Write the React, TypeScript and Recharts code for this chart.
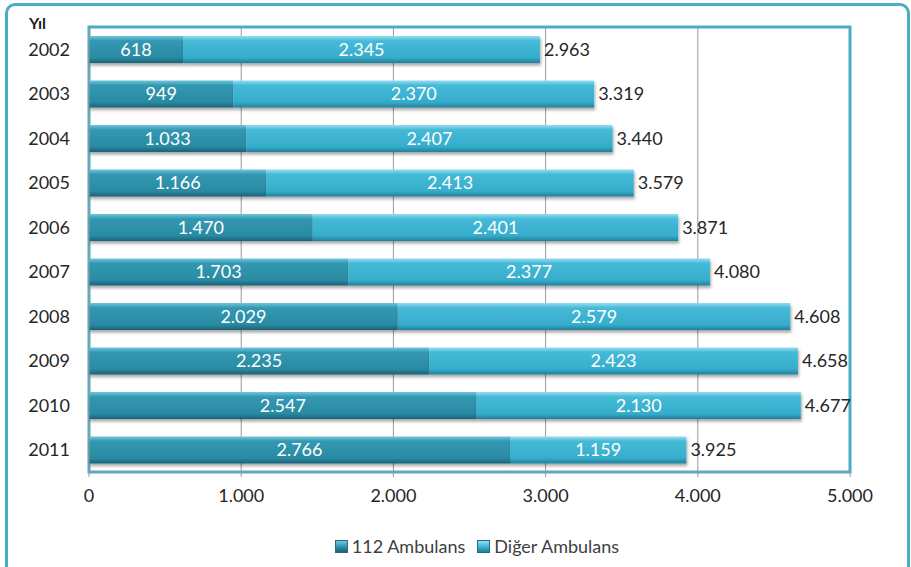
import { BarChart, Bar, XAxis, YAxis, CartesianGrid, Legend, LabelList, ReferenceArea } from 'recharts';

const years = ['2002', '2003', '2004', '2005', '2006', '2007', '2008', '2009', '2010', '2011'];
const ambulans112 = [618, 949, 1033, 1166, 1470, 1703, 2029, 2235, 2547, 2766];
const digerAmbulans = [2345, 2370, 2407, 2413, 2401, 2377, 2579, 2423, 2130, 1159];
const totals = [2963, 3319, 3440, 3579, 3871, 4080, 4608, 4658, 4677, 3925];
const xTicks = [0, 1000, 2000, 3000, 4000, 5000];

const data = years.map((y, i) => ({
  year: y,
  a112: ambulans112[i],
  diger: digerAmbulans[i],
  total: totals[i],
}));

const FONT = 'Lato, "Open Sans", sans-serif';
const BORDER = '#4BACC6';

// 1.000 style thousands separator
const fmt = (v: number) => String(v).replace(/\B(?=(\d{3})+(?!\d))/g, '.');

const TotalLabel = (props: any) => {
  const { x, y, width, height, index } = props;
  return (
    <text
      x={Number(x) + Number(width) + 4}
      y={Number(y) + Number(height) / 2}
      dy="0.35em"
      fontSize={18}
      fontFamily={FONT}
      fill="#262626"
    >
      {fmt(totals[index])}
    </text>
  );
};

const LegendContent = () => (
  <div style={{ display: 'flex', justifyContent: 'center', gap: 12, fontFamily: FONT, fontSize: 18, color: '#404040', marginLeft: 104, marginTop: 2 }}>
    {[
      { name: '112 Ambulans', c: 'linear-gradient(#6FC6DC, #2A8AA3 60%, #1B6177)' },
      { name: 'Diğer Ambulans', c: 'linear-gradient(#95DDEF, #36ADCC 60%, #21809A)' },
    ].map((l) => (
      <span key={l.name} style={{ display: 'flex', alignItems: 'center', gap: 4 }}>
        <span style={{ width: 11, height: 11, background: l.c, border: '1px solid #1f6e85', display: 'inline-block' }} />
        {l.name}
      </span>
    ))}
  </div>
);

export default function App() {
  return (
    <div style={{ position: 'absolute', left: 0, top: 0, width: 911, height: 567, overflow: 'hidden', background: '#fff' }}>
      <div
        style={{
          position: 'absolute', left: 5, top: 3, width: 899, height: 620,
          border: `3px solid ${BORDER}`, borderRadius: 10,
        }}
      />
      <div style={{ position: 'absolute', left: 29, top: 13, fontFamily: FONT, fontWeight: 700, fontSize: 16, color: '#222' }}>
        Yıl
      </div>
      <BarChart
        width={911}
        height={567}
        data={data}
        layout="vertical"
        barSize={27}
        margin={{ top: 27, right: 61, left: 0, bottom: 6 }}
      >
        <defs>
          <linearGradient id="g112" x1="0" y1="0" x2="0" y2="1">
            <stop offset="0%" stopColor="#6FC6DC" />
            <stop offset="18%" stopColor="#3398B2" />
            <stop offset="80%" stopColor="#2A8AA3" />
            <stop offset="100%" stopColor="#1B6177" />
          </linearGradient>
          <linearGradient id="gDiger" x1="0" y1="0" x2="0" y2="1">
            <stop offset="0%" stopColor="#95DDEF" />
            <stop offset="18%" stopColor="#45BAD7" />
            <stop offset="80%" stopColor="#36ADCC" />
            <stop offset="100%" stopColor="#21809A" />
          </linearGradient>
          <filter id="shadow" x="-5%" y="-20%" width="110%" height="160%">
            <feDropShadow dx="1" dy="2.5" stdDeviation="1.5" floodColor="#000" floodOpacity="0.35" />
          </filter>
        </defs>
        <CartesianGrid horizontal={false} stroke="#9a9a9a" />
        <XAxis
          type="number"
          domain={[0, 5000]}
          ticks={xTicks}
          tickFormatter={fmt}
          height={61}
          tickSize={5}
          tickMargin={12}
          axisLine={{ stroke: '#9a9a9a' }}
          tickLine={{ stroke: '#9a9a9a' }}
          tick={{ fontSize: 18, fontFamily: FONT, fill: '#262626' }}
        />
        <YAxis
          type="category"
          dataKey="year"
          width={89}
          tickSize={6}
          tickMargin={13}
          tickLine={false}
          axisLine={{ stroke: '#9a9a9a' }}
          tick={{ fontSize: 18, fontFamily: FONT, fill: '#262626' }}
        />
        <ReferenceArea x1={0} x2={5000} fill="none" stroke={BORDER} strokeWidth={3} ifOverflow="visible" />
        <Legend content={<LegendContent />} verticalAlign="bottom" height={28} />
        <Bar dataKey="a112" name="112 Ambulans" stackId="s" fill="url(#g112)" filter="url(#shadow)" isAnimationActive={false}>
          <LabelList dataKey="a112" position="center" formatter={(v: any) => fmt(Number(v))} fill="#fff" fontSize={18} fontFamily={FONT} />
        </Bar>
        <Bar dataKey="diger" name="Diğer Ambulans" stackId="s" fill="url(#gDiger)" filter="url(#shadow)" isAnimationActive={false}>
          <LabelList dataKey="diger" position="center" formatter={(v: any) => fmt(Number(v))} fill="#fff" fontSize={18} fontFamily={FONT} />
          <LabelList dataKey="total" content={<TotalLabel />} />
        </Bar>
      </BarChart>
    </div>
  );
}
